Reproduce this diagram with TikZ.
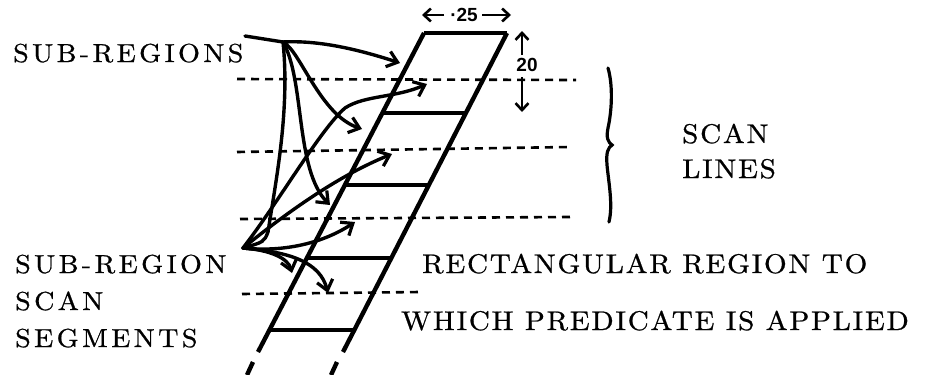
\documentclass[tikz,border=0pt]{standalone}
\usepackage{fontspec}
\usetikzlibrary{arrows.meta,calc}
\newfontfamily\lftfont{lmroman10-regular.otf}[LetterSpace=13,FakeStretch=1.08,FakeBold=0.8]
\newfontfamily\rgtfont{lmroman10-regular.otf}[LetterSpace=6.5,FakeStretch=1.08,FakeBold=0.8]
\newfontfamily\dimfont{Liberation Sans}
\begin{document}
\begin{tikzpicture}[x=1pt,y=-1pt,
  lbl/.style={anchor=base west, inner sep=0pt, font=\lftfont\fontsize{26}{30}\selectfont},
  rlbl/.style={anchor=base west, inner sep=0pt, font=\rgtfont\fontsize{27}{31}\selectfont},
  dimlbl/.style={inner sep=0pt, font=\dimfont\bfseries\fontsize{19}{21}\selectfont},
  strip/.style={line width=4.4pt},
  rung/.style={line width=3.2pt},
  scanline/.style={line width=2.6pt, dash pattern=on 8pt off 6pt},
  pointer/.style={line width=3.4pt, line cap=round, -{Straight Barb[length=10pt,width=16pt,line width=3.2pt]}},
  leader/.style={line width=3.4pt, line cap=round},
  dimarrow/.style={line width=2.6pt, -{Straight Barb[length=7pt,width=13pt,line width=2.6pt]}},
  bracestyle/.style={line width=3.2pt, line cap=round}
]
\useasboundingbox (0,0) rectangle (943,375);

% labels
\node[lbl] (subregions) at (13,62) {SUB-REGIONS};
\node[lbl] (subregion) at (15,273) {SUB-REGION};
\node[lbl] (scanA) at (15,310) {SCAN};
\node[lbl] (segments) at (15,347) {SEGMENTS};
\node[rlbl] (scanB) at (682,143) {SCAN};
\node[rlbl] (lines) at (682,178) {LINES};
\node[rlbl] (rect) at (422,273) {RECTANGULAR REGION TO};
\node[rlbl] (which) at (401,330) {WHICH PREDICATE IS APPLIED};

% strip
\coordinate (lt) at (424,33);
\coordinate (lb) at (258,352);
\coordinate (rt) at (507,33);
\coordinate (rb) at (343,352);
\draw[strip] (lt) -- (lb);
\draw[strip] (rt) -- (rb);
\draw[strip] (lt) -- (rt);
\draw[strip] (253,362) -- (247,375);
\draw[strip] (337,362) -- (331,375);
\foreach \t in {0.2508,0.4765,0.7053,0.931}
  \draw[rung] ($(lt)!\t!(lb)$) -- ($(rt)!\t!(rb)$);

% scan lines
\draw[scanline] (237,79) -- (576,80);
\draw[scanline] (237,152) -- (570,147);
\draw[scanline] (240,219) -- (570,217);
\draw[scanline] (242,294) -- (420,292);

% dimensions
\node[dimlbl] (w25) at (464,15) {·25};
\node[dimlbl] (h20) at (527,65) {20};
\coordinate (wl) at (422,15);
\coordinate (wr) at (511,15);
\coordinate (hu) at (522,31);
\coordinate (hd) at (522,112);
\draw[dimarrow] (444,15) -- (wl);
\draw[dimarrow] (482,15) -- (wr);
\draw[dimarrow] (522,55) -- (hu);
\draw[dimarrow] (522,77) -- (hd);

% brace
\draw[bracestyle] (608,68) .. controls (613,85) and (612,110) .. (608,128)
  .. controls (606,138) and (608,142) .. (612,145)
  .. controls (608,148) and (606,152) .. (607,165)
  .. controls (609,185) and (613,205) .. (609,222);

% hubs
\coordinate (h1) at (283,42);
\coordinate (h2) at (243,248);
\coordinate (lead) at (245,36);
\coordinate (dM) at (268,232);
\draw[leader] (lead) -- (h1);

\coordinate (tA) at (400,63);
\coordinate (tB) at (362,129);
\coordinate (tC) at (330,205);
\coordinate (tE) at (427,84);
\coordinate (tF) at (392,154);
\coordinate (tG) at (355,222);
\coordinate (tH) at (292,273);
\coordinate (tI) at (328,293);
\coordinate (eM) at (345,108);

\draw[pointer] (h1) .. controls (320,40) and (360,50) .. (tA);
\draw[pointer] (h1) .. controls (300,50) and (320,115) .. (tB);
\draw[pointer] (h1) .. controls (305,80) and (295,170) .. (tC);
\draw[leader] (h1) .. controls (290,110) and (276,180) .. (dM) .. controls (264,242) .. (h2);
\draw[pointer] (h2) .. controls (280,200) and (320,130) .. (eM) .. controls (365,95) and (395,98) .. (tE);
\draw[pointer] (h2) .. controls (290,210) and (340,175) .. (tF);
\draw[pointer] (h2) .. controls (280,252) and (320,245) .. (tG);
\draw[pointer] (h2) .. controls (270,250) and (288,258) .. (tH);
\draw[pointer] (h2) .. controls (290,252) and (320,262) .. (tI);
\end{tikzpicture}
\end{document}
